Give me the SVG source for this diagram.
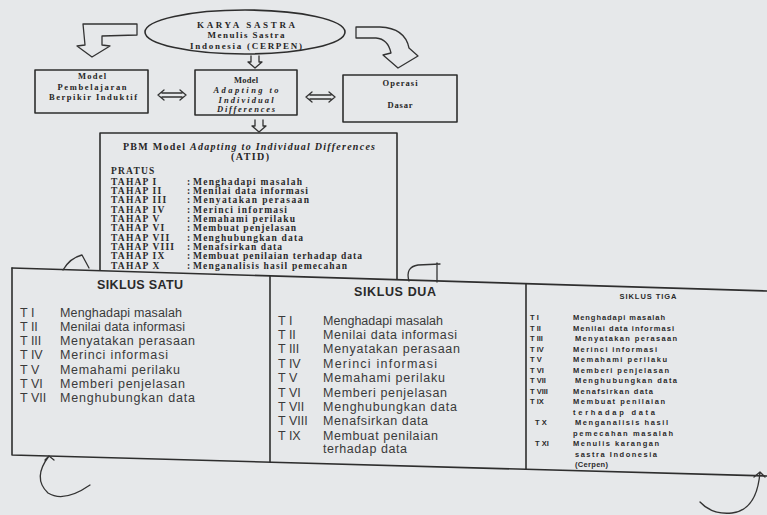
<svg xmlns="http://www.w3.org/2000/svg" width="767" height="515" viewBox="0 0 767 515">
<style>
.bg{fill:#e6e8ea}
.ln{fill:none;stroke:#2e2e2e;stroke-width:1.6;stroke-linecap:round;stroke-linejoin:round}
.thin{fill:none;stroke:#333;stroke-width:1.3;stroke-linecap:round;stroke-linejoin:round}
.sf{font-family:"Liberation Serif","DejaVu Serif",serif;font-weight:bold;fill:#262626}
.sfi{font-style:italic}
.tah{font-family:"Liberation Serif","DejaVu Serif",serif;font-weight:bold;font-size:9.5px;fill:#2a2a2a}
.tl{letter-spacing:1.2px}
.ss{font-family:"Liberation Sans","Arial",sans-serif;font-size:12.5px;fill:#3a3a3a}
.st{font-family:"Liberation Sans","Arial",sans-serif;font-size:12.5px;font-weight:bold;fill:#2a2a2a}
.s3{font-family:"Liberation Sans","Arial",sans-serif;font-size:7.5px;font-weight:bold;fill:#2a2a2a}
</style>
<rect class="bg" x="0" y="0" width="767" height="515"/>

<g id="karya-sastra">
<ellipse class="ln" cx="245" cy="32" rx="100" ry="22"/>
<text class="sf" x="246" y="28" font-size="9" text-anchor="middle" textLength="98" lengthAdjust="spacing">KARYA SASTRA</text>
<text class="sf" x="246" y="38" font-size="9" text-anchor="middle" textLength="77" lengthAdjust="spacing">Menulis Sastra</text>
<text class="sf" x="246" y="49" font-size="9" text-anchor="middle" textLength="112" lengthAdjust="spacing">Indonesia (CERPEN)</text>
</g>

<g id="model-pbi">
<rect class="ln" x="35" y="70" width="113" height="43"/>
<text class="sf" x="92" y="79" font-size="8.5" text-anchor="middle" textLength="28" lengthAdjust="spacing">Model</text>
<text class="sf" x="92" y="89.5" font-size="8.5" text-anchor="middle" textLength="69" lengthAdjust="spacing">Pembelajaran</text>
<text class="sf" x="93" y="100" font-size="8.5" text-anchor="middle" textLength="88" lengthAdjust="spacing">Berpikir Induktif</text>
</g>

<g id="model-atid">
<rect class="ln" x="195" y="70" width="102" height="45"/>
<text class="sf" x="246" y="83" font-size="8.5" text-anchor="middle" textLength="24" lengthAdjust="spacing">Model</text>
<text class="sf sfi" x="246" y="93" font-size="8.5" text-anchor="middle" textLength="65" lengthAdjust="spacing">Adapting to</text>
<text class="sf sfi" x="246" y="102.5" font-size="8.5" text-anchor="middle" textLength="55" lengthAdjust="spacing">Individual</text>
<text class="sf sfi" x="246" y="112" font-size="8.5" text-anchor="middle" textLength="58" lengthAdjust="spacing">Differences</text>
</g>

<g id="operasi-dasar">
<rect class="ln" x="343" y="75" width="114" height="47"/>
<text class="sf" x="400" y="86" font-size="8.5" text-anchor="middle" textLength="35" lengthAdjust="spacing">Operasi</text>
<text class="sf" x="400" y="108" font-size="8.5" text-anchor="middle" textLength="25" lengthAdjust="spacing">Dasar</text>
</g>

<g id="pbm-atid">
<path class="ln" d="M100,271 L100,133 L397,133 L397,281"/>
<text class="sf" x="123" y="149.5" font-size="10" textLength="252" lengthAdjust="spacing">PBM Model <tspan class="sfi">Adapting to Individual Differences</tspan></text>
<text class="sf" x="250" y="160" font-size="10" text-anchor="middle" textLength="38" lengthAdjust="spacing">(ATID)</text>
<g class="tah tl">
<text x="111" y="173.5">PRATUS</text>
<text x="111" y="184.5">TAHAP I</text>
<text x="111" y="193.8">TAHAP II</text>
<text x="111" y="203.2">TAHAP III</text>
<text x="111" y="212.5">TAHAP IV</text>
<text x="111" y="221.8">TAHAP V</text>
<text x="111" y="231.2">TAHAP VI</text>
<text x="111" y="240.5">TAHAP VII</text>
<text x="111" y="249.8">TAHAP VIII</text>
<text x="111" y="259.2">TAHAP IX</text>
<text x="111" y="268.5">TAHAP X</text>
</g>
<g class="tah">
<text x="187" y="184.5">:</text>
<text x="187" y="193.8">:</text>
<text x="187" y="203.2">:</text>
<text x="187" y="212.5">:</text>
<text x="187" y="221.8">:</text>
<text x="187" y="231.2">:</text>
<text x="187" y="240.5">:</text>
<text x="187" y="249.8">:</text>
<text x="187" y="259.2">:</text>
<text x="187" y="268.5">:</text>
<text x="193" y="184.5" textLength="109" lengthAdjust="spacing">Menghadapi masalah</text>
<text x="193" y="193.8" textLength="115" lengthAdjust="spacing">Menilai data informasi</text>
<text x="193" y="203.2" textLength="116" lengthAdjust="spacing">Menyatakan perasaan</text>
<text x="193" y="212.5" textLength="94" lengthAdjust="spacing">Merinci informasi</text>
<text x="193" y="221.8" textLength="102" lengthAdjust="spacing">Memahami perilaku</text>
<text x="193" y="231.2" textLength="103" lengthAdjust="spacing">Membuat penjelasan</text>
<text x="193" y="240.5" textLength="110" lengthAdjust="spacing">Menghubungkan data</text>
<text x="193" y="249.8" textLength="89" lengthAdjust="spacing">Menafsirkan data</text>
<text x="193" y="259.2" textLength="169" lengthAdjust="spacing">Membuat penilaian terhadap data</text>
<text x="193" y="268.5" textLength="154" lengthAdjust="spacing">Menganalisis hasil pemecahan</text>
</g>
</g>

<g id="tabel-siklus">
<path class="bg" d="M12,268 L767,291 L767,476 L12,455 Z"/>
<path class="ln" d="M12,268 L767,291"/>
<path class="ln" d="M12,268 L12,455 L767,476"/>
<path class="ln" d="M270,276 L270,462"/>
<path class="ln" d="M526,284 L526,469"/>
</g>

<g id="siklus-satu">
<text class="st" x="140" y="289" text-anchor="middle" textLength="86" lengthAdjust="spacing">SIKLUS SATU</text>
<g class="ss">
<text x="20" y="316.5">T I</text>
<text x="20" y="330.8">T II</text>
<text x="20" y="345.1">T III</text>
<text x="20" y="359.4">T IV</text>
<text x="20" y="373.7">T V</text>
<text x="20" y="388">T VI</text>
<text x="20" y="402.3">T VII</text>
<text x="60" y="316.5" textLength="122" lengthAdjust="spacing">Menghadapi masalah</text>
<text x="60" y="330.8" textLength="125" lengthAdjust="spacing">Menilai data informasi</text>
<text x="60" y="345.1" textLength="135" lengthAdjust="spacing">Menyatakan perasaan</text>
<text x="60" y="359.4" textLength="108" lengthAdjust="spacing">Merinci informasi</text>
<text x="60" y="373.7" textLength="120" lengthAdjust="spacing">Memahami perilaku</text>
<text x="60" y="388" textLength="125" lengthAdjust="spacing">Memberi penjelasan</text>
<text x="60" y="402.3" textLength="135" lengthAdjust="spacing">Menghubungkan data</text>
</g>
</g>

<g id="siklus-dua">
<text class="st" x="395" y="295.5" text-anchor="middle" textLength="82" lengthAdjust="spacing">SIKLUS DUA</text>
<g class="ss">
<text x="278" y="324.5">T I</text>
<text x="278" y="338.9">T II</text>
<text x="278" y="353.3">T III</text>
<text x="278" y="367.7">T IV</text>
<text x="278" y="382.1">T V</text>
<text x="278" y="396.5">T VI</text>
<text x="278" y="410.9">T VII</text>
<text x="278" y="425.3">T VIII</text>
<text x="278" y="439.7">T IX</text>
<text x="323" y="324.5" textLength="120" lengthAdjust="spacing">Menghadapi masalah</text>
<text x="323" y="338.9" textLength="134" lengthAdjust="spacing">Menilai data informasi</text>
<text x="323" y="353.3" textLength="137" lengthAdjust="spacing">Menyatakan perasaan</text>
<text x="323" y="367.7" textLength="114" lengthAdjust="spacing">Merinci informasi</text>
<text x="323" y="382.1" textLength="122" lengthAdjust="spacing">Memahami perilaku</text>
<text x="323" y="396.5" textLength="124" lengthAdjust="spacing">Memberi penjelasan</text>
<text x="323" y="410.9" textLength="134" lengthAdjust="spacing">Menghubungkan data</text>
<text x="323" y="425.3" textLength="105" lengthAdjust="spacing">Menafsirkan data</text>
<text x="323" y="439.7" textLength="115" lengthAdjust="spacing">Membuat penilaian</text>
<text x="323" y="453" textLength="84" lengthAdjust="spacing">terhadap data</text>
</g>
</g>

<g id="siklus-tiga">
<text class="s3" x="648" y="299" font-size="8" text-anchor="middle" textLength="57" lengthAdjust="spacing">SIKLUS TIGA</text>
<g class="s3">
<text x="530" y="320">T I</text>
<text x="530" y="330.5">T II</text>
<text x="530" y="341">T III</text>
<text x="530" y="351.5">T IV</text>
<text x="530" y="362">T V</text>
<text x="530" y="372.5">T VI</text>
<text x="530" y="383">T VII</text>
<text x="530" y="393.5">T VIII</text>
<text x="530" y="404">T IX</text>
<text x="535" y="425">T X</text>
<text x="535" y="446">T XI</text>
<text x="573" y="320" textLength="92" lengthAdjust="spacing">Menghadapi masalah</text>
<text x="573" y="330.5" textLength="101" lengthAdjust="spacing">Menilai data informasi</text>
<text x="575" y="341" textLength="102" lengthAdjust="spacing">Menyatakan perasaan</text>
<text x="573" y="351.5" textLength="84" lengthAdjust="spacing">Merinci informasi</text>
<text x="573" y="362" textLength="94" lengthAdjust="spacing">Memahami perilaku</text>
<text x="573" y="372.5" textLength="96" lengthAdjust="spacing">Memberi penjelasan</text>
<text x="575" y="383" textLength="102" lengthAdjust="spacing">Menghubungkan data</text>
<text x="573" y="393.5" textLength="80" lengthAdjust="spacing">Menafsirkan data</text>
<text x="573" y="404" textLength="92" lengthAdjust="spacing">Membuat penilaian</text>
<text x="573" y="414.5" textLength="82" lengthAdjust="spacing">terhadap data</text>
<text x="575" y="425" textLength="93" lengthAdjust="spacing">Menganalisis hasil</text>
<text x="573" y="435.5" textLength="100" lengthAdjust="spacing">pemecahan masalah</text>
<text x="573" y="446" textLength="86" lengthAdjust="spacing">Menulis karangan</text>
<text x="575" y="456.5" textLength="82" lengthAdjust="spacing">sastra Indonesia</text>
<text x="575" y="467" textLength="33" lengthAdjust="spacing">(Cerpen)</text>
</g>
</g>

<g id="connectors">
<path class="thin" d="M83,24 L137,24 L137,35 L102,36 L102,45 L110,46 L92,57 L77,46 L85,45 Z"/>
<path class="thin" d="M356,27 L380,27 Q405,28 409,48 L418,56 L398,68 L383,55 L391,53 Q388,39 376,38 L356,38 Z"/>
<path class="thin" d="M251,68 L251,62 L248,62 L255,56 L262,62 L259,62 L259,68" transform="rotate(180 255 62)"/>
<path class="thin" d="M255,132 L255,126 L252,126 L259,120 L266,126 L263,126 L263,132" transform="rotate(180 259 126)"/>
<path class="thin" d="M158,95 L164,90 M158,95 L164,100 M162,93 L182,93 M162,97 L182,97 M186,95 L180,90 M186,95 L180,100"/>
<path class="thin" d="M306,97 L312,92 M306,97 L312,102 M310,95 L331,95 M310,99 L331,99 M335,97 L329,92 M335,97 L329,102"/>
<path class="thin" d="M63,270 Q70,258 82,255 L89,268"/>
<path class="thin" d="M409,281 Q405,267 418,265 L440,264 M437,263 L437,282"/>
<path class="thin" d="M45,460 L49,456 L54,460 M49,456 Q32,478 48,493 Q64,503 90,485"/>
<path class="thin" d="M754,477 L760,472 L765,477 M760,472 Q757,510 732,513 Q712,515 700,502"/>
</g>
</svg>
